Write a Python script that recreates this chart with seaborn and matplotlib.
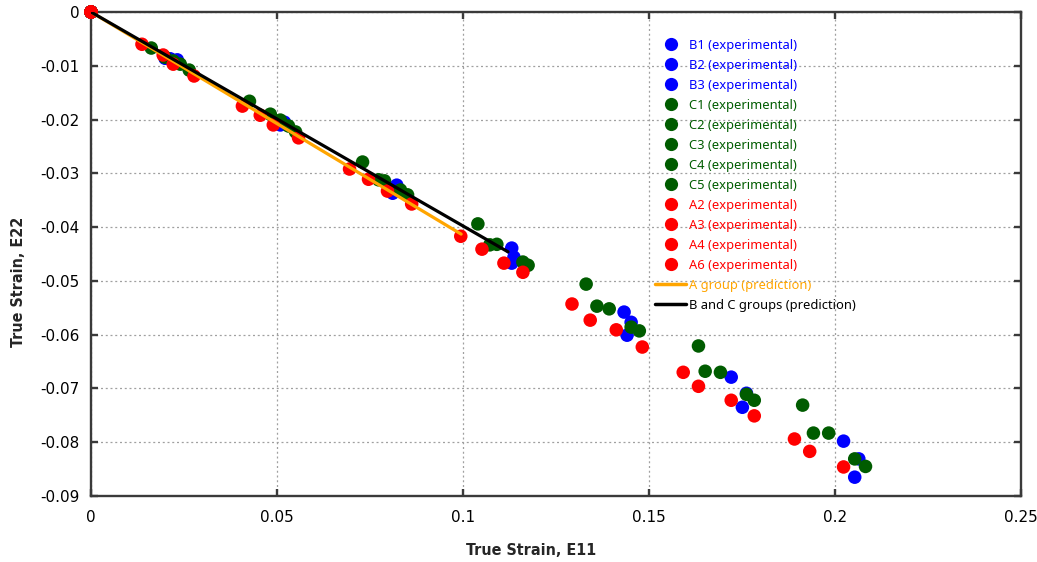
import matplotlib
matplotlib.use("Agg")
import matplotlib.pyplot as plt
import seaborn as sns
import pandas as pd
from matplotlib.lines import Line2D

# ---------------- data ----------------
B1_e11 = [0, 0.0199, 0.0501, 0.0811, 0.1131, 0.1433, 0.1721, 0.2023]
B1_e22 = [0, -0.0086, -0.0205, -0.0337, -0.0439, -0.0558, -0.0679, -0.0798]
B2_e11 = [0, 0.0213, 0.0509, 0.0815, 0.1137, 0.1452, 0.1762, 0.2064]
B2_e22 = [0, -0.0087, -0.0210, -0.0331, -0.0456, -0.0577, -0.0709, -0.0831]
B3_e11 = [0, 0.0232, 0.0520, 0.0822, 0.1131, 0.1441, 0.1751, 0.2053]
B3_e22 = [0, -0.0089, -0.0205, -0.0322, -0.0467, -0.0601, -0.0735, -0.0865]

C1_e11 = [0, 0.0162, 0.0426, 0.0730, 0.1040, 0.1331, 0.1633, 0.1913]
C1_e22 = [0, -0.0067, -0.0166, -0.0279, -0.0394, -0.0506, -0.0621, -0.0731]
C2_e11 = [0, 0.0199, 0.0482, 0.0773, 0.1072, 0.1360, 0.1651, 0.1942]
C2_e22 = [0, -0.0084, -0.0190, -0.0312, -0.0433, -0.0547, -0.0668, -0.0783]
C3_e11 = [0, 0.0221, 0.0509, 0.0789, 0.1091, 0.1393, 0.1692, 0.1983]
C3_e22 = [0, -0.0091, -0.0201, -0.0314, -0.0432, -0.0552, -0.0670, -0.0783]
C4_e11 = [0, 0.0240, 0.0531, 0.0832, 0.1161, 0.1452, 0.1762, 0.2053]
C4_e22 = [0, -0.0097, -0.0212, -0.0331, -0.0465, -0.0586, -0.0711, -0.0831]
C5_e11 = [0, 0.0264, 0.0550, 0.0851, 0.1175, 0.1474, 0.1783, 0.2082]
C5_e22 = [0, -0.0108, -0.0223, -0.0340, -0.0471, -0.0593, -0.0722, -0.0845]

A2_e11 = [0, 0.0137, 0.0407, 0.0695, 0.0994, 0.1293, 0.1592, 0.1891]
A2_e22 = [0, -0.0060, -0.0175, -0.0292, -0.0417, -0.0543, -0.0670, -0.0794]
A3_e11 = [0, 0.0194, 0.0455, 0.0746, 0.1051, 0.1342, 0.1633, 0.1932]
A3_e22 = [0, -0.0080, -0.0192, -0.0311, -0.0441, -0.0573, -0.0696, -0.0817]
A4_e11 = [0, 0.0221, 0.0490, 0.0797, 0.1110, 0.1412, 0.1721, 0.2023]
A4_e22 = [0, -0.0097, -0.0210, -0.0333, -0.0467, -0.0591, -0.0722, -0.0846]
A6_e11 = [0, 0.0277, 0.0558, 0.0862, 0.1161, 0.1482, 0.1783]
A6_e22 = [0, -0.0119, -0.0234, -0.0357, -0.0484, -0.0623, -0.0751]

A_pred_e11 = [0, 0.0995]
A_pred_e22 = [0, -0.0413]
BC_pred_e11 = [0, 0.1121]
BC_pred_e22 = [0, -0.0446]

x_ticks = [0, 0.05, 0.1, 0.15, 0.2, 0.25]
x_tick_labels = ["0", "0.05", "0.1", "0.15", "0.2", "0.25"]
y_ticks = [0, -0.01, -0.02, -0.03, -0.04, -0.05, -0.06, -0.07, -0.08, -0.09]
y_tick_labels = ["0", "-0.01", "-0.02", "-0.03", "-0.04", "-0.05", "-0.06", "-0.07", "-0.08", "-0.09"]

specimens = ["B1", "B2", "B3", "C1", "C2", "C3", "C4", "C5", "A2", "A3", "A4", "A6"]
spec_x = [B1_e11, B2_e11, B3_e11, C1_e11, C2_e11, C3_e11, C4_e11, C5_e11, A2_e11, A3_e11, A4_e11, A6_e11]
spec_y = [B1_e22, B2_e22, B3_e22, C1_e22, C2_e22, C3_e22, C4_e22, C5_e22, A2_e22, A3_e22, A4_e22, A6_e22]

BLUE = "#0000ff"
GREEN = "#005c00"
RED = "#ff0000"
ORANGE = "#ffa500"
group_color = {"B": BLUE, "C": GREEN, "A": RED}

rows = []
for name, xs, ys in zip(specimens, spec_x, spec_y):
    for xv, yv in zip(xs, ys):
        rows.append({"E11": xv, "E22": yv, "label": f"{name} (experimental)"})
df = pd.DataFrame(rows)
labels = [f"{n} (experimental)" for n in specimens]
palette = {f"{n} (experimental)": group_color[n[0]] for n in specimens}

pred_rows = []
for xv, yv in zip(A_pred_e11, A_pred_e22):
    pred_rows.append({"E11": xv, "E22": yv, "label": "A group (prediction)"})
for xv, yv in zip(BC_pred_e11, BC_pred_e22):
    pred_rows.append({"E11": xv, "E22": yv, "label": "B and C groups (prediction)"})
pdf = pd.DataFrame(pred_rows)
pred_palette = {"A group (prediction)": ORANGE, "B and C groups (prediction)": "black"}

# ---------------- figure ----------------
sns.set_theme(style="white")
plt.rcParams["font.family"] = ["DejaVu Sans"]
plt.rcParams["axes.unicode_minus"] = False

fig = plt.figure(figsize=(10.37, 5.62), dpi=100)
ax = fig.add_axes([91 / 1037, 1 - 496 / 562, (1021 - 91) / 1037, (496 - 12) / 562])

sns.scatterplot(data=df, x="E11", y="E22", hue="label", hue_order=labels,
                palette=palette, s=95, linewidth=0, ax=ax, legend=False,
                zorder=3, clip_on=False)
sns.lineplot(data=pdf, x="E11", y="E22", hue="label",
             hue_order=["A group (prediction)", "B and C groups (prediction)"],
             palette=pred_palette, linewidth=2.3, ax=ax, legend=False,
             zorder=4, sort=False)

ax.set_xlim(0, 0.25)
ax.set_ylim(-0.09, 0)
ax.set_xticks(x_ticks)
ax.set_xticklabels(x_tick_labels)
ax.set_yticks(y_ticks)
ax.set_yticklabels(y_tick_labels)

ax.grid(True, linestyle=(0, (1.6, 2.2)), color="#a0a0a0", linewidth=0.9)
ax.set_axisbelow(True)
for sp in ax.spines.values():
    sp.set_color("#3a3a3a")
    sp.set_linewidth(1.7)
    sp.set_visible(True)
ax.tick_params(axis="both", which="major", direction="in", length=5, width=1.7,
               color="#3a3a3a", labelsize=11, labelcolor="black",
               top=True, right=True, bottom=True, left=True)
ax.tick_params(axis="x", pad=10)
ax.tick_params(axis="y", pad=8)

ax.set_xlabel("True Strain, E11", fontsize=11.5, fontweight="bold",
              fontstretch="condensed")
ax.set_ylabel("True Strain, E22", fontsize=11.5, fontweight="bold",
              fontstretch="condensed")
ax.xaxis.set_label_coords((531 - 91) / 930, (496 - 543) / 484)
ax.yaxis.set_label_coords((26 - 91) / 930, (496 - 282) / 484)

# legend
handles = []
for n in specimens:
    handles.append(Line2D([], [], linestyle="none", marker="o", markersize=9.5,
                          markerfacecolor=group_color[n[0]], markeredgewidth=0))
handles.append(Line2D([], [], color=ORANGE, linewidth=2.5))
handles.append(Line2D([], [], color="black", linewidth=2.5))
leg_labels = labels + ["A group (prediction)", "B and C groups (prediction)"]
leg = ax.legend(handles, leg_labels, loc="upper left",
                bbox_to_anchor=((655 - 91) / 930, (496 - 39) / 484),
                frameon=False, borderpad=0, borderaxespad=0,
                handlelength=2.4, handletextpad=0.25, labelspacing=0.54,
                prop={"family": "Noto Sans", "size": 9.3})
text_colors = [group_color[n[0]] for n in specimens] + [ORANGE, "black"]
for t, c in zip(leg.get_texts(), text_colors):
    t.set_color(c)

fig.savefig("out.png", dpi=100)
